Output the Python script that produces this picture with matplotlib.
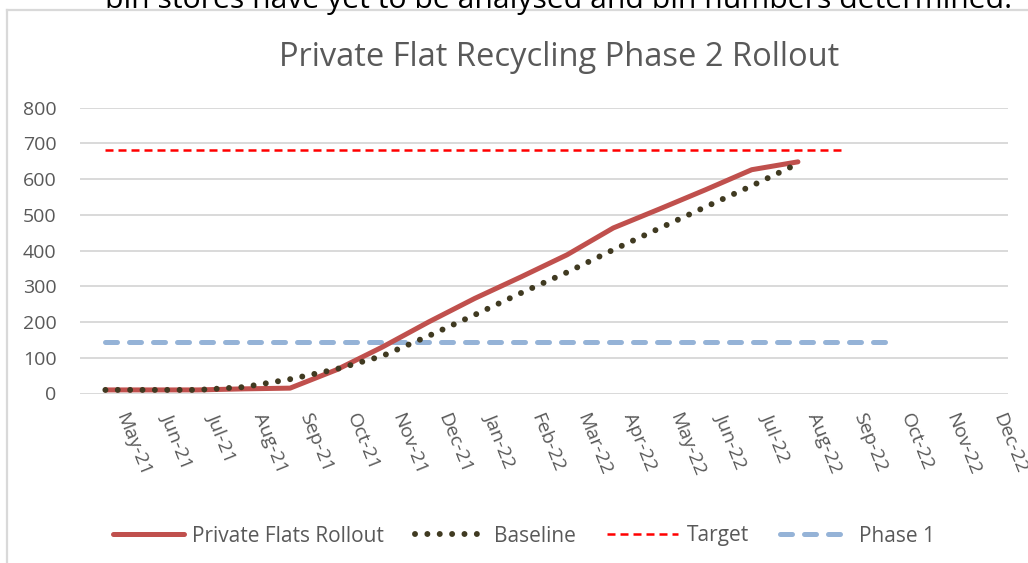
import matplotlib
matplotlib.use('Agg')
import matplotlib.pyplot as plt
import matplotlib.transforms as mtransforms
from matplotlib.lines import Line2D
import numpy as np

plt.rcParams['font.family'] = ['Open Sans', 'DejaVu Sans']

# month categories on the x axis
months = ['May-21', 'Jun-21', 'Jul-21', 'Aug-21', 'Sep-21', 'Oct-21', 'Nov-21',
          'Dec-21', 'Jan-22', 'Feb-22', 'Mar-22', 'Apr-22', 'May-22', 'Jun-22',
          'Jul-22', 'Aug-22', 'Sep-22', 'Oct-22', 'Nov-22', 'Dec-22']

# series values
rollout = [10, 10, 10, 13, 15, 66, 130, 200, 266, 326, 388, 463, 516, 570, 626, 648]
baseline = [10, 10, 10, 18, 40, 68, 105, 161, 220, 281, 339, 402, 462, 522, 581, 643]
target = [680] * 17
phase1 = [145] * 18

grey_text = '#595959'
grid_col = '#d9d9d9'

W, H = 1028, 563
fig = plt.figure(figsize=(W / 100, H / 100), dpi=100)
ax = fig.add_axes([80 / W, 1 - 393.5 / H, (1008 - 80) / W, (393.5 - 107.5) / H])

# document text cut off at the top of the screenshot
fig.text(105 / W, 1 - 8 / H, 'bin stores have yet to be analysed and bin numbers determined.',
         fontsize=21.7, color='black', ha='left', va='baseline')

# chart area border (only left and top edge visible)
fig.add_artist(Line2D([7 / W, 7 / W], [0, 1 - 10 / H], transform=fig.transFigure,
                      color=grid_col, lw=1.6))
fig.add_artist(Line2D([7 / W, 1], [1 - 10 / H, 1 - 10 / H], transform=fig.transFigure,
                      color=grid_col, lw=1.6))

fig.text(559 / W, 1 - 58 / H, 'Private Flat Recycling Phase 2 Rollout',
         fontsize=23.5, color=grey_text, ha='center', va='center')

x_all = np.arange(len(months))

l_phase, = ax.plot(x_all[:len(phase1)], phase1, color='#95B3D7', lw=3.6,
                   dashes=(2.4, 2.4), dash_capstyle='round', label='Phase 1', zorder=2)
l_target, = ax.plot(x_all[:len(target)], target, color='#FF0000', lw=1.8,
                    dashes=(3.2, 2.0), label='Target', zorder=3)
l_roll, = ax.plot(x_all[:len(rollout)], rollout, color='#C0504D', lw=3.6,
                  solid_capstyle='round', label='Private Flats Rollout', zorder=4)
l_base, = ax.plot(x_all[:len(baseline)], baseline, color='#403A21', lw=4.3,
                  dashes=(0.001, 2.07), dash_capstyle='round', label='Baseline', zorder=5)

ax.set_xlim(-0.55, len(months) - 0.45)
ax.set_ylim(0, 800)
ax.set_yticks(range(0, 801, 100))
ax.yaxis.grid(True, color=grid_col, lw=1.4)
ax.set_axisbelow(True)
for s in ax.spines.values():
    s.set_visible(False)
ax.tick_params(axis='both', length=0, labelsize=14, labelcolor=grey_text)
ax.tick_params(axis='y', pad=17)

ax.set_xticks(x_all)
ax.set_xticklabels(months, rotation=-68, ha='left', va='top', rotation_mode='anchor')
offset = mtransforms.ScaledTranslation(23 / 100, -12 / 100, fig.dpi_scale_trans)
for lbl in ax.get_xticklabels():
    lbl.set_transform(lbl.get_transform() + offset)

fig.legend(handles=[l_roll, l_base, l_target, l_phase], loc='center', ncol=4,
           bbox_to_anchor=(524 / W, 1 - 536 / H), frameon=False, fontsize=15,
           labelcolor=grey_text, handlelength=3.4, handletextpad=0.4, columnspacing=1.5)

fig.savefig('out.png', dpi=100)
